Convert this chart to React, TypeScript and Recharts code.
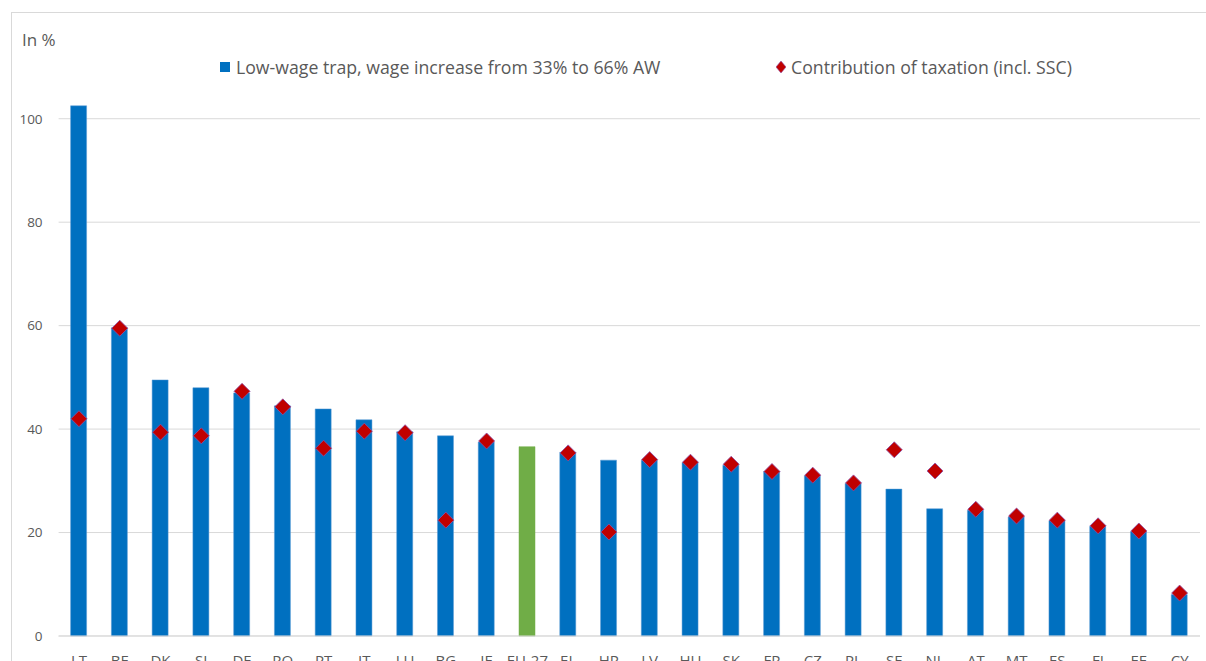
import { ComposedChart, Bar, Scatter, XAxis, YAxis, CartesianGrid, Cell } from "recharts";

const countries = ["LT", "BE", "DK", "SI", "DE", "RO", "PT", "IT", "LU", "BG", "IE", "EU-27", "EL", "HR", "LV", "HU", "SK", "FR", "CZ", "PL", "SE", "NL", "AT", "MT", "ES", "FI", "EE", "CY"];
const lowWageTrap = [102.5, 59.6, 49.5, 48.0, 47.0, 44.5, 43.9, 41.8, 39.5, 38.7, 37.5, 36.6, 35.5, 34.0, 34.0, 33.5, 33.0, 31.8, 31.0, 29.5, 28.4, 24.6, 24.3, 23.0, 22.3, 21.2, 20.2, 8.0];
const taxContribution: (number | null)[] = [42.0, 59.5, 39.4, 38.7, 47.3, 44.3, 36.3, 39.6, 39.3, 22.4, 37.7, null, 35.4, 20.1, 34.1, 33.6, 33.2, 31.8, 31.1, 29.6, 36.0, 31.9, 24.5, 23.2, 22.4, 21.3, 20.3, 8.3];
const yTicks = [0, 20, 40, 60, 80, 100];

const BLUE = "#0070c0";
const GREEN = "#70ad47";
const RED = "#c00000";
const FONT = "'Open Sans', 'Liberation Sans', sans-serif";

const data = countries.map((c, i) => ({
  country: c,
  trap: lowWageTrap[i],
  tax: taxContribution[i],
}));

// eslint-disable-next-line @typescript-eslint/no-explicit-any
function Diamond(props: any) {
  const { cx, cy } = props;
  if (cx == null || cy == null || props.payload?.tax == null) return null;
  const r = 8;
  return (
    <polygon
      points={`${cx},${cy - r} ${cx + r},${cy} ${cx},${cy + r} ${cx - r},${cy}`}
      fill={RED}
      stroke="#8e4fa8"
      strokeWidth={0.8}
    />
  );
}

export default function App() {
  return (
    <div
      style={{
        position: "absolute",
        left: 11,
        top: 12,
        width: 1205,
        height: 700,
        border: "1px solid #d9d9d9",
        borderRight: "none",
        fontFamily: FONT,
        background: "#fff",
      }}
    >
      <div style={{ position: "absolute", left: 10, top: 15, fontSize: 17, color: "#595959" }}>In %</div>
      <div style={{ position: "absolute", left: 208, top: 42, display: "flex", alignItems: "center", fontSize: 17.7, color: "#595959" }}>
        <span style={{ width: 10, height: 10, background: BLUE, marginRight: 6 }} />
        <span>Low-wage trap, wage increase from 33% to 66% AW</span>
      </div>
      <div style={{ position: "absolute", left: 764, top: 42, display: "flex", alignItems: "center", fontSize: 17.7, color: "#595959" }}>
        <svg width={10} height={12} style={{ marginRight: 5 }}>
          <polygon points="5,0 10,6 5,12 0,6" fill={RED} stroke="#8e4fa8" strokeWidth={0.6} />
        </svg>
        <span>Contribution of taxation (incl. SSC)</span>
      </div>
      <ComposedChart
        width={1200}
        height={700}
        data={data}
        margin={{ top: 54, right: 12, bottom: 47, left: 0 }}
        barCategoryGap="0%"
      >
        <CartesianGrid vertical={false} stroke="#d9d9d9" horizontalValues={yTicks} />
        <XAxis
          dataKey="country"
          height={30}
          tickLine={false}
          tickSize={0}
          tickMargin={19}
          axisLine={{ stroke: "#d9d9d9" }}
          interval={0}
          tick={{ fontSize: 15, fill: "#595959", fontFamily: FONT }}
        />
        <YAxis
          width={46.6}
          domain={[0, 110]}
          ticks={yTicks}
          axisLine={false}
          tickLine={false}
          tickMargin={10}
          tick={{ fontSize: 13.5, fill: "#595959", fontFamily: FONT }}
        />
        <Bar dataKey="trap" barSize={16} isAnimationActive={false} stroke="#5b9bd5" strokeWidth={0.5}>
          {data.map((d) => (
            <Cell key={d.country} fill={d.country === "EU-27" ? GREEN : BLUE} stroke={d.country === "EU-27" ? GREEN : "#5b9bd5"} />
          ))}
        </Bar>
        <Scatter dataKey="tax" isAnimationActive={false} shape={<Diamond />} />
      </ComposedChart>
    </div>
  );
}
